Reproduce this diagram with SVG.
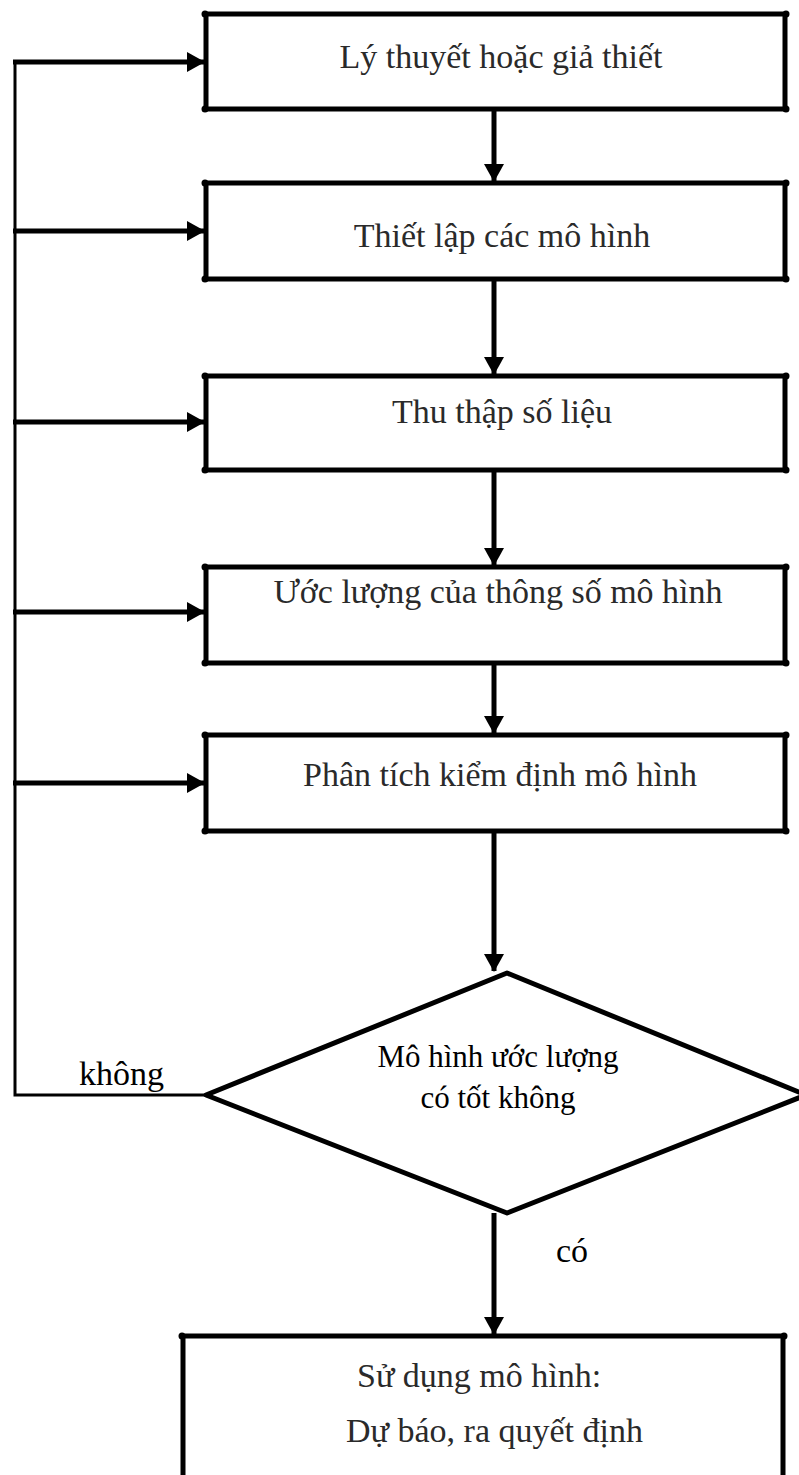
<svg xmlns="http://www.w3.org/2000/svg" width="799" height="1475" viewBox="0 0 799 1475">
<style>
.box{fill:#fff;stroke:#000;stroke-width:5;stroke-linejoin:round}
.t{font-family:"Liberation Serif","Times New Roman",serif;font-size:34px;fill:#2a2a2a;text-anchor:middle}
.d{font-family:"Liberation Serif","Times New Roman",serif;font-size:31px;fill:#000;text-anchor:middle}
.l{font-family:"Liberation Serif","Times New Roman",serif;font-size:34px;fill:#000}
.c{fill:none;stroke:#000;stroke-width:5}
.thin{fill:none;stroke:#000;stroke-width:3}
.dot{fill:#000}
</style>
<defs>
<marker id="ah" markerUnits="userSpaceOnUse" markerWidth="18" markerHeight="20" refX="17" refY="10" orient="auto">
<path d="M0,0 L18,10 L0,20 Z" fill="#000"/>
</marker>
<g id="corners">
<circle class="dot" cx="-1" cy="0" r="3.5"/><circle class="dot" cx="580" cy="0" r="3.5"/>
</g>
</defs>
<g id="connectors">
<path class="thin" d="M206,1095 L15,1095 L15,62"/>
<path class="c" d="M13,62 L204,62" marker-end="url(#ah)"/>
<path class="c" d="M13,231 L204,231" marker-end="url(#ah)"/>
<path class="c" d="M13,422 L204,422" marker-end="url(#ah)"/>
<path class="c" d="M13,612 L204,612" marker-end="url(#ah)"/>
<path class="c" d="M13,783 L204,783" marker-end="url(#ah)"/>
<path class="c" d="M494,109 L494,181" marker-end="url(#ah)"/>
<path class="c" d="M494,279 L494,374" marker-end="url(#ah)"/>
<path class="c" d="M494,470 L494,565" marker-end="url(#ah)"/>
<path class="c" d="M494,663 L494,733" marker-end="url(#ah)"/>
<path class="c" d="M494,831 L494,971" marker-end="url(#ah)"/>
<path class="c" d="M494,1213 L494,1334" marker-end="url(#ah)"/>
<text class="l" x="79" y="1085">không</text>
<text class="l" x="556" y="1262">có</text>
</g>
<g id="n1"><rect class="box" x="206" y="14" width="579" height="95"/><use href="#corners" x="206" y="14"/><use href="#corners" x="206" y="109"/><text class="t" x="501" y="68">Lý thuyết hoặc giả thiết</text></g>
<g id="n2"><rect class="box" x="206" y="183" width="579" height="96"/><use href="#corners" x="206" y="183"/><use href="#corners" x="206" y="279"/><text class="t" x="502" y="247">Thiết lập các mô hình</text></g>
<g id="n3"><rect class="box" x="206" y="376" width="579" height="94"/><use href="#corners" x="206" y="376"/><use href="#corners" x="206" y="470"/><text class="t" x="502" y="423">Thu thập số liệu</text></g>
<g id="n4"><rect class="box" x="206" y="567" width="579" height="96"/><use href="#corners" x="206" y="567"/><use href="#corners" x="206" y="663"/><text class="t" x="498" y="603">Ước lượng của thông số mô hình</text></g>
<g id="n5"><rect class="box" x="206" y="735" width="579" height="96"/><use href="#corners" x="206" y="735"/><use href="#corners" x="206" y="831"/><text class="t" x="500" y="786">Phân tích kiểm định mô hình</text></g>
<g id="n6"><polygon class="box" points="507,973 806,1095 507,1213 206,1095"/><text class="d" x="498" y="1067">Mô hình ước lượng</text><text class="d" x="498" y="1108">có tốt không</text></g>
<g id="n7"><rect class="box" x="183" y="1336" width="600" height="160"/><circle class="dot" cx="182" cy="1336" r="3.5"/><circle class="dot" cx="784" cy="1336" r="3.5"/><text class="t" x="357" y="1387" style="text-anchor:start">Sử dụng mô hình:</text><text class="t" x="346" y="1442" style="text-anchor:start">Dự báo, ra quyết định</text></g>
</svg>
